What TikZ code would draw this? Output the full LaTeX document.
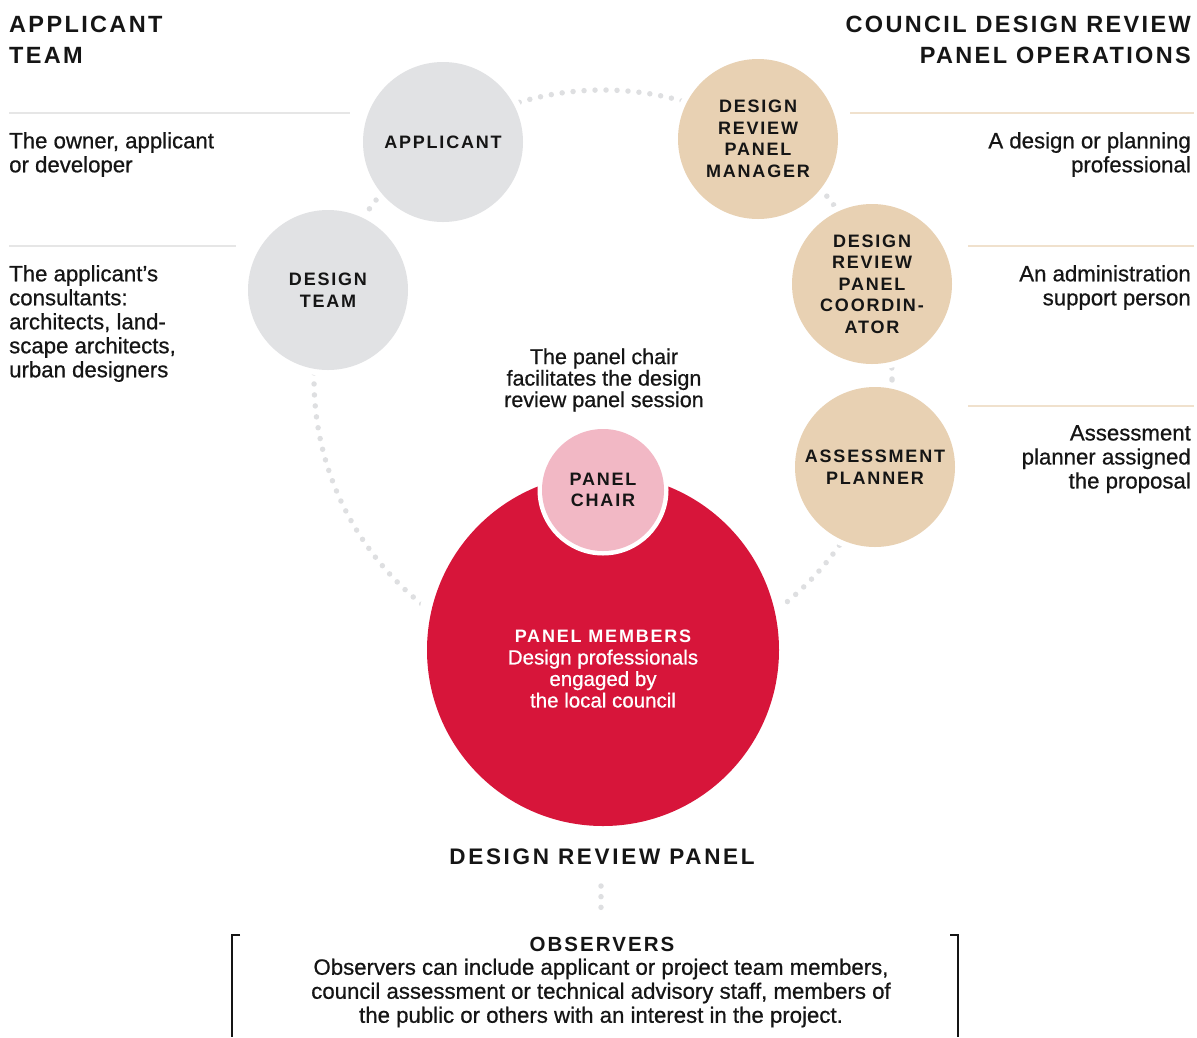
\documentclass[tikz,border=0pt]{standalone}
\usepackage{fontspec}
\setmainfont{Liberation Sans}
\newfontfamily\spacedfont[LetterSpace=10]{Liberation Sans}
\newfontfamily\bodyfamily[FakeBold=0.7]{Liberation Sans}
\newfontfamily\drpfont[LetterSpace=12]{Liberation Sans}
\definecolor{ink}{HTML}{151515}
\definecolor{cgrey}{HTML}{E1E2E4}
\definecolor{dotgrey}{HTML}{DEDFE1}
\definecolor{cbeige}{HTML}{E8D1B3}
\definecolor{cred}{HTML}{D7153A}
\definecolor{cpink}{HTML}{F2B8C5}
\definecolor{rulegrey}{HTML}{E6E6E6}
\definecolor{rulebeige}{HTML}{F0E1CD}
\newcommand\lblfont{\spacedfont\bfseries\fontsize{18}{21.5}\selectfont}
\newcommand\headfont{\spacedfont\bfseries\fontsize{23.5}{31}\selectfont}
\newcommand\bodyfont{\bodyfamily\fontsize{22.2}{24}\selectfont}
\begin{document}
\begin{tikzpicture}[x=1pt,y=-1pt,
  dotarc/.style={draw=dotgrey, line width=5.5pt, line cap=round, dash pattern=on 0pt off 11pt},
  halo/.style={preaction={draw=white, line width=#1}},
  rolecircle/.style={circle, minimum size=160pt, inner sep=0pt, halo=12pt, align=center, font=\lblfont, text=ink},
  gcircle/.style={rolecircle, fill=cgrey},
  bcircle/.style={rolecircle, fill=cbeige},
  desc/.style={inner sep=0pt, font=\bodyfont, text=ink},
  head/.style={inner sep=0pt, font=\headfont, text=ink},
  rulel/.style={draw=rulegrey, line width=1.3pt},
  ruler/.style={draw=rulebeige, line width=1.3pt},
  bracket/.style={draw=ink, line width=1.2pt}
]
\useasboundingbox (0,0) rectangle (1197,1037);

% dotted ring behind the circles
\draw[dotarc] (603,379) circle[radius=289pt];

% headers
\node[head, anchor=north west, align=left] (hl) at (9,16) {APPLICANT\\TEAM};
\node[head, anchor=north east, align=right] (hr) at (1191,16) {COUNCIL DESIGN REVIEW\\PANEL OPERATIONS};

% rules
\draw[rulel] (9,113) -- (350,113);
\draw[rulel] (9,246) -- (236,246);
\draw[ruler] (850,113) -- (1194,113);
\draw[ruler] (968,246) -- (1194,246);
\draw[ruler] (968,406) -- (1194,406);

% descriptions
\node[desc, anchor=north west, align=left] (d1) at (9,132) {The owner, applicant\\or developer};
\node[desc, anchor=north west, align=left] (d2) at (9,265) {The applicant’s\\consultants:\\architects, land-\\scape architects,\\urban designers};
\node[desc, anchor=north east, align=right] (d3) at (1191,132) {A design or planning\\professional};
\node[desc, anchor=north east, align=right] (d4) at (1191,265) {An administration\\support person};
\node[desc, anchor=north east, align=right] (d5) at (1191,425) {Assessment\\planner assigned\\the proposal};
\node[desc, align=center, font=\bodyfamily\fontsize{21.5}{21.5}\selectfont] (chairdesc) at (604,380) {The panel chair\\facilitates the design\\review panel session};

% role circles
\node[gcircle] (applicant) at (443,142) {APPLICANT};
\node[gcircle] (designteam) at (328,290) {DESIGN\\TEAM};
\node[bcircle] (manager) at (758,139) {DESIGN\\REVIEW\\PANEL\\MANAGER};
\node[bcircle] (coord) at (872,284) {DESIGN\\REVIEW\\PANEL\\COORDIN-\\ATOR};
\node[bcircle] (planner) at (875,467) {ASSESSMENT\\PLANNER};

% panel
\node[circle, minimum size=352pt, inner sep=0pt, fill=cred, halo=24pt] (members) at (603,650) {};
\node[inner sep=0pt, align=center, text=white, font=\bodyfamily\fontsize{20.5}{21.5}\selectfont] (memberstext) at (603,669)
  {{\spacedfont\bfseries\fontsize{18}{21.5}\selectfont PANEL MEMBERS}\\Design professionals\\engaged by\\the local council};
\node[circle, minimum size=122pt, inner sep=0pt, fill=cpink, halo=9pt, align=center, font=\lblfont, text=ink] (chair) at (603,490) {PANEL\\CHAIR};

% design review panel + observers
\node[inner sep=0pt, text=ink, font=\drpfont\bfseries\fontsize{22.5}{26}\selectfont] (drp) at (602,857) {DESIGN REVIEW PANEL};
\node[inner sep=0pt, text=ink, font=\spacedfont\bfseries\fontsize{20.5}{24}\selectfont] (obs) at (602,944) {OBSERVERS};
\node[inner sep=0pt, text=ink, align=center, font=\bodyfamily\fontsize{22.2}{24}\selectfont] (obstext) at (601,993)
  {Observers can include applicant or project team members,\\council assessment or technical advisory staff, members of\\the public or others with an interest in the project.};

\coordinate (dtop) at (601,886);
\coordinate (dbot) at (601,918);
\draw[dotarc, dash pattern=on 0pt off 10.67pt] (dtop) -- (dbot);

\coordinate (lbt) at (240,935);
\coordinate (lbc) at (232,935);
\coordinate (lbb) at (232,1037);
\coordinate (rbt) at (950,935);
\coordinate (rbc) at (958,935);
\coordinate (rbb) at (958,1037);
\draw[bracket] (lbt) -- (lbc) -- (lbb);
\draw[bracket] (rbt) -- (rbc) -- (rbb);
\end{tikzpicture}
\end{document}
